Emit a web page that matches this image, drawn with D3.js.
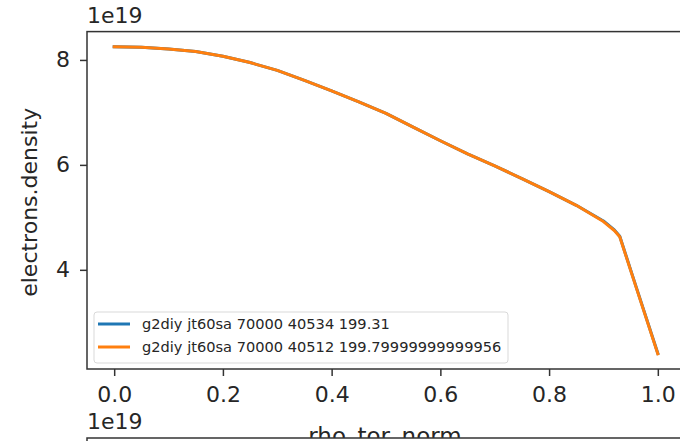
<!DOCTYPE html>
<html lang="en">
    <head>
        <meta charset="utf-8">
        <title>electrons.density vs rho_tor_norm</title>
        <script type="text/javascript" src="https://cdn.jsdelivr.net/npm/d3@7"></script>
        <style type="text/css">
          body { margin: 0; background: #fff; }
          text { font-family: "DejaVu Sans", sans-serif; fill: #262626; }
        </style>
    </head>
    <body>
        <script type="text/javascript">

          // profile values, density in units of 1e19
          var rho = [0, 0.05, 0.1, 0.15, 0.2, 0.25, 0.3, 0.35, 0.4, 0.45, 0.5, 0.55,
                     0.6, 0.65, 0.7, 0.75, 0.8, 0.85, 0.9, 0.92, 0.93, 0.96, 1.0];
          var dens40534 = [8.25, 8.24, 8.21, 8.16, 8.07, 7.95, 7.80, 7.61, 7.41, 7.20, 6.98, 6.72,
                           6.46, 6.21, 5.98, 5.74, 5.49, 5.23, 4.93, 4.76, 4.64, 3.68, 2.41];
          var dens40512 = [8.25, 8.24, 8.21, 8.16, 8.07, 7.95, 7.80, 7.61, 7.41, 7.20, 6.98, 6.72,
                           6.46, 6.21, 5.98, 5.74, 5.49, 5.23, 4.92, 4.75, 4.63, 3.67, 2.40];
          var seriesNames = ["g2diy jt60sa 70000 40534 199.31",
                             "g2diy jt60sa 70000 40512 199.79999999999956"];
          var xTicks = [0, 0.2, 0.4, 0.6, 0.8, 1.0];
          var yTicks = [4, 6, 8];

          var w = 680, h = 441;
          var colors = ["#1f77b4", "#ff7f0e"];

          var svg = d3.select("body")
                      .append("svg")
                      .attr("width", w)
                      .attr("height", h);

          var xScale = d3.scaleLinear()
                         .domain([-0.05, 1.05])
                         .range([87, 685]);

          var yScale = d3.scaleLinear()
                         .domain([2.11, 8.54])
                         .range([369, 31.6]);

          var plotLeft = xScale.range()[0], plotRight = xScale.range()[1];
          var plotTop = yScale.range()[1], plotBottom = yScale.range()[0];

          var series = [dens40534, dens40512].map(function(vals, k){
            return {name: seriesNames[k], color: colors[k],
                    points: rho.map(function(r, i){ return [r, vals[i]]; })};
          });

          var line = d3.line()
                       .x(function(d){ return xScale(d[0]); })
                       .y(function(d){ return yScale(d[1]); });

          svg.selectAll("path.series")
             .data(series)
             .enter()
             .append("path")
             .attr("class", "series")
             .attr("d", function(d){ return line(d.points); })
             .attr("fill", "none")
             .attr("stroke", function(d){ return d.color; })
             .attr("stroke-width", 3)
             .attr("stroke-linejoin", "round")
             .attr("stroke-linecap", "square");

          var xAxis = d3.axisBottom(xScale)
                        .tickValues(xTicks)
                        .tickFormat(d3.format(".1f"))
                        .tickSize(7)
                        .tickPadding(10)
                        .tickSizeOuter(0);

          var yAxis = d3.axisLeft(yScale)
                        .tickValues(yTicks)
                        .tickFormat(d3.format("d"))
                        .tickSize(7)
                        .tickPadding(10)
                        .tickSizeOuter(0);

          var gx = svg.append("g")
             .attr("transform", "translate(0," + plotBottom + ")")
             .call(xAxis);
          var gy = svg.append("g")
             .attr("transform", "translate(" + plotLeft + ",0)")
             .call(yAxis);

          [gx, gy].forEach(function(g){
            g.select(".domain").remove();
            g.selectAll(".tick line").attr("stroke", "#333").attr("stroke-width", 1.5);
            g.selectAll(".tick text").style("font-size", "22px").attr("fill", "#262626");
          });

          // frame
          svg.append("rect")
             .attr("x", plotLeft).attr("y", plotTop)
             .attr("width", plotRight - plotLeft).attr("height", plotBottom - plotTop)
             .attr("fill", "none").attr("stroke", "#333").attr("stroke-width", 1.5);

          svg.append("text")
             .attr("x", plotLeft)
             .attr("y", 23)
             .style("font-size", "22px")
             .text("1e19");

          svg.append("text")
             .attr("transform", "translate(29," + ((plotTop + plotBottom) / 2 + 2) + ") rotate(-90)")
             .attr("text-anchor", "middle")
             .attr("dy", "0.35em")
             .style("font-size", "22px")
             .text("electrons.density");

          svg.append("text")
             .attr("x", 385)
             .attr("y", 444)
             .attr("text-anchor", "middle")
             .style("font-size", "23px")
             .text("rho_tor_norm");

          // legend
          var legend = svg.append("g").attr("transform", "translate(94,312)");
          legend.append("rect")
                .attr("width", 414).attr("height", 51)
                .attr("rx", 3)
                .attr("fill", "#fff").attr("fill-opacity", 0.8)
                .attr("stroke", "#d9d9d9");
          var items = legend.selectAll("g.item")
                            .data(series)
                            .enter()
                            .append("g")
                            .attr("class", "item")
                            .attr("transform", function(d, i){ return "translate(0," + (12 + i * 23) + ")"; });
          items.append("line")
               .attr("x1", 4).attr("x2", 36)
               .attr("stroke", function(d){ return d.color; })
               .attr("stroke-width", 3);
          items.append("text")
               .attr("x", 48)
               .attr("dy", "0.35em")
               .style("font-size", "14.6px")
               .text(function(d){ return d.name; });

          // top of the next subplot below
          svg.append("rect")
             .attr("x", plotLeft).attr("y", 438)
             .attr("width", w).attr("height", 20)
             .attr("fill", "#fff").attr("stroke", "#333").attr("stroke-width", 1.5);

          svg.append("text")
             .attr("x", plotLeft)
             .attr("y", 429)
             .style("font-size", "22px")
             .text("1e19");

        </script>
    </body>
</html>
